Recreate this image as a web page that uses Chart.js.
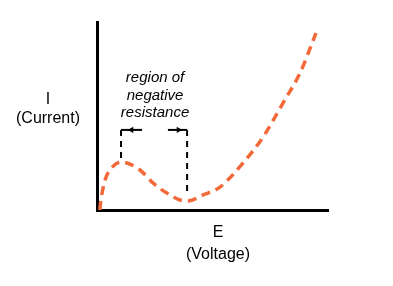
<!DOCTYPE html>
<html lang="en">
<head>
    <meta charset="UTF-8">
    <title>Negative Resistance</title>
    <style>
        html, body {
            margin: 0;
            padding: 0;
            background-color: #fff;
        }

        .chart-box {
            width: 393px;
            height: 286px;
        }
    </style>
</head>
<body>
    <div class="chart-box">
        <canvas id="ivChart" width="393" height="286"></canvas>
    </div>

    <script src="https://cdn.jsdelivr.net/npm/chart.js"></script>
    <script>
        // I-V curve (E along x, I along y, both 0..10)
        const curveE = [0.12, 0.17, 0.35, 0.56, 1.04, 1.86, 2.42, 3.03, 3.59, 3.94, 4.59, 5.32, 6.32, 7.19, 8.05, 8.79, 9.48];
        const curveI = [0.00, 0.53, 1.60, 2.13, 2.55, 2.13, 1.44, 0.90, 0.53, 0.48, 0.80, 1.22, 2.50, 3.88, 5.69, 7.29, 9.41];

        // bracket marking the negative resistance region
        const bracketLeftE = [1.95, 1.04, 1.04];
        const bracketLeftI = [4.26, 4.26, 2.66];
        const bracketRightE = [3.07, 3.90, 3.90];
        const bracketRightI = [4.26, 4.26, 0.96];
        const arrowE = [1.49, 3.53];
        const arrowI = [4.26, 4.26];
        const arrowTurn = [-90, 90];

        const regionLabel = ['region of', 'negative', 'resistance'];
        const yLabel = ['I', '(Current)'];
        const xLabel = ['E', '(Voltage)'];

        const toPoints = (xs, ys) => xs.map((x, i) => ({ x: x, y: ys[i] }));

        const labelsPlugin = {
            id: 'labels',
            afterDraw(chart) {
                const ctx = chart.ctx;
                const xs = chart.scales.x;
                const ys = chart.scales.y;
                ctx.save();
                ctx.fillStyle = '#000';
                ctx.textAlign = 'center';
                ctx.textBaseline = 'middle';

                // text above the bracket
                ctx.font = 'italic 15px "Liberation Sans", Arial, sans-serif';
                const midX = (xs.getPixelForValue(1.04) + xs.getPixelForValue(3.90)) / 2;
                regionLabel.forEach((line, i) => {
                    ctx.fillText(line, midX + 1, 78 + i * 17.5);
                });

                // axis names
                ctx.font = '16px "Liberation Sans", Arial, sans-serif';
                ctx.fillText(yLabel[0], 48, 100);
                ctx.fillText(yLabel[1], 48, 119);
                ctx.fillText(xLabel[0], 218, 233);
                ctx.fillText(xLabel[1], 218, 255);
                ctx.restore();
            }
        };

        const ctx = document.getElementById('ivChart').getContext('2d');

        new Chart(ctx, {
            type: 'line',
            data: {
                datasets: [{
                    data: toPoints(curveE, curveI),
                    borderColor: 'rgb(243, 106, 58)',
                    borderWidth: 3.5,
                    borderDash: [9, 6],
                    cubicInterpolationMode: 'monotone',
                    pointRadius: 0
                }, {
                    data: toPoints(bracketLeftE, bracketLeftI),
                    borderColor: '#000',
                    borderWidth: 2,
                    borderDash: [6, 5],
                    segment: {
                        borderDash: c => c.p0DataIndex === 0 ? [] : [6, 5]
                    },
                    pointRadius: 0
                }, {
                    data: toPoints(bracketRightE, bracketRightI),
                    borderColor: '#000',
                    borderWidth: 2,
                    borderDash: [6, 5],
                    segment: {
                        borderDash: c => c.p0DataIndex === 0 ? [] : [6, 5]
                    },
                    pointRadius: 0
                }, {
                    data: toPoints(arrowE, arrowI),
                    showLine: false,
                    pointStyle: 'triangle',
                    pointRotation: arrowTurn,
                    pointRadius: 3.6,
                    pointBorderWidth: 0,
                    pointBackgroundColor: '#000',
                    pointBorderColor: '#000'
                }]
            },
            options: {
                responsive: false,
                animation: false,
                events: [],
                layout: {
                    padding: { left: 97, right: 65, top: 22, bottom: 76 }
                },
                plugins: {
                    legend: { display: false },
                    tooltip: { enabled: false }
                },
                scales: {
                    x: {
                        type: 'linear',
                        min: 0,
                        max: 10,
                        grid: { display: false, drawTicks: false },
                        ticks: { display: false },
                        border: { display: true, color: '#000', width: 3 }
                    },
                    y: {
                        type: 'linear',
                        min: 0,
                        max: 10,
                        grid: { display: false, drawTicks: false },
                        ticks: { display: false },
                        border: { display: true, color: '#000', width: 3 }
                    }
                }
            },
            plugins: [labelsPlugin]
        });
    </script>
</body>
</html>
